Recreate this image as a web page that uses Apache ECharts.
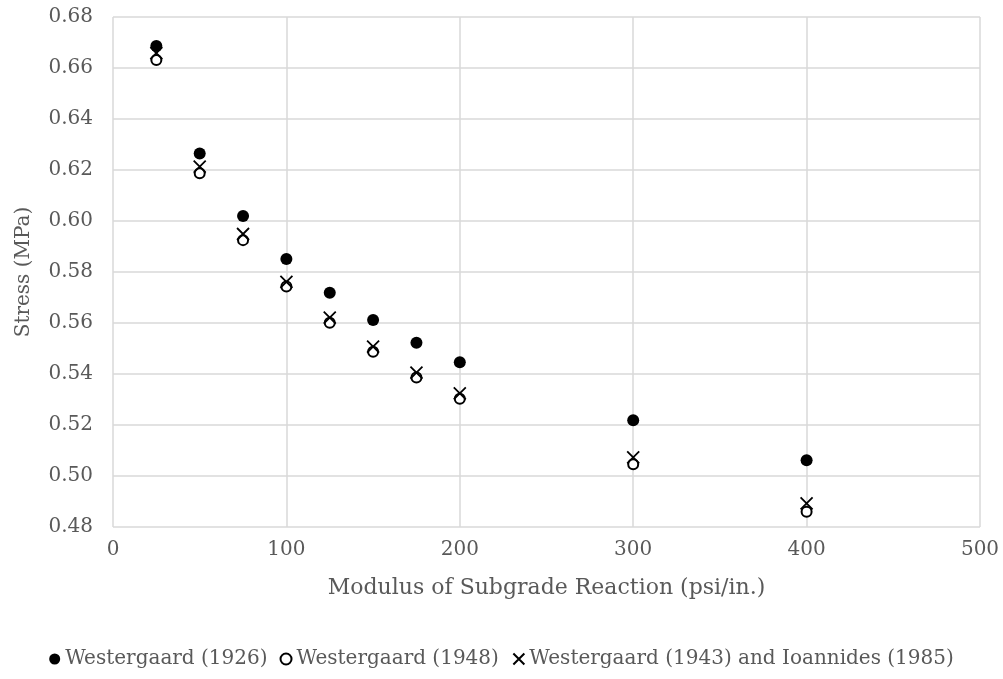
<!DOCTYPE html>
<html>
<head>
<meta charset="utf-8">
<script src="https://cdn.jsdelivr.net/npm/echarts@6/dist/echarts.min.js"></script>
<style>
  html, body { margin: 0; padding: 0; background: #fff; }
  #chart { width: 1003px; height: 679px; }
</style>
</head>
<body>
<div id="chart"></div>
<script>
// Modulus of subgrade reaction (psi/in.)
const modulus = [25, 50, 75, 100, 125, 150, 175, 200, 300, 400];
// Stress (MPa) by method
const westergaard1926 = [0.6686, 0.6265, 0.6020, 0.5851, 0.5719, 0.5612, 0.5523, 0.5446, 0.5219, 0.5062];
const westergaard1948 = [0.6631, 0.6187, 0.5925, 0.5743, 0.5601, 0.5487, 0.5386, 0.5303, 0.5046, 0.4860];
const westergaard1943 = [0.6658, 0.6213, 0.5949, 0.5761, 0.5621, 0.5507, 0.5405, 0.5324, 0.5073, 0.4893];
const seriesNames = ['Westergaard (1926)', 'Westergaard (1948)', 'Westergaard (1943) and Ioannides (1985)'];

const FONT = '"DejaVu Serif", "Liberation Serif", serif';
const GRID = '#d9d9d9';
const TEXT = '#595959';

const pairs = vals => modulus.map((k, i) => [k, vals[i]]);
const crossPath = 'path://M0,0L10,10M10,0L0,10';

const chart = echarts.init(document.getElementById('chart'), null, { renderer: 'canvas' });
chart.setOption({
  animation: false,
  textStyle: { fontFamily: FONT },
  grid: { left: 113, right: 23, top: 17, bottom: 152, containLabel: false },
  xAxis: {
    type: 'value', min: 0, max: 500, interval: 100,
    name: 'Modulus of Subgrade Reaction (psi/in.)',
    nameLocation: 'middle', nameGap: 50,
    nameTextStyle: { fontFamily: FONT, fontSize: 22, color: TEXT },
    axisLine: { show: false },
    axisTick: { show: false },
    axisLabel: { fontFamily: FONT, fontSize: 20, color: TEXT, margin: 13 },
    splitLine: { show: true, lineStyle: { color: GRID, width: 1.5 } }
  },
  yAxis: {
    type: 'value', min: 0.48, max: 0.68, interval: 0.02,
    name: 'Stress (MPa)',
    nameLocation: 'middle', nameGap: 79,
    nameTextStyle: { fontFamily: FONT, fontSize: 20, color: TEXT },
    axisLine: { show: false },
    axisTick: { show: false },
    axisLabel: { fontFamily: FONT, fontSize: 20, color: TEXT, margin: 20,
      formatter: v => v.toFixed(2) },
    splitLine: { show: true, lineStyle: { color: GRID, width: 1.5 } }
  },
  legend: {
    bottom: 5, left: 'center',
    itemWidth: 11, itemHeight: 11, itemGap: 12,
    textStyle: { fontFamily: FONT, fontSize: 20, color: TEXT },
    data: seriesNames
  },
  series: [
    {
      name: seriesNames[0], type: 'scatter', data: pairs(westergaard1926),
      symbol: 'circle', symbolSize: 12, z: 3,
      itemStyle: { color: '#000', opacity: 1 }
    },
    {
      name: seriesNames[1], type: 'scatter', data: pairs(westergaard1948),
      symbol: 'circle', symbolSize: 10, z: 4,
      itemStyle: { color: '#fff', borderColor: '#000', borderWidth: 2, opacity: 1 }
    },
    {
      name: seriesNames[2], type: 'scatter', data: pairs(westergaard1943),
      symbol: crossPath, symbolSize: 12, z: 5,
      itemStyle: { color: 'none', borderColor: '#000', borderWidth: 1.8, opacity: 1 }
    }
  ]
});
</script>
</body>
</html>
